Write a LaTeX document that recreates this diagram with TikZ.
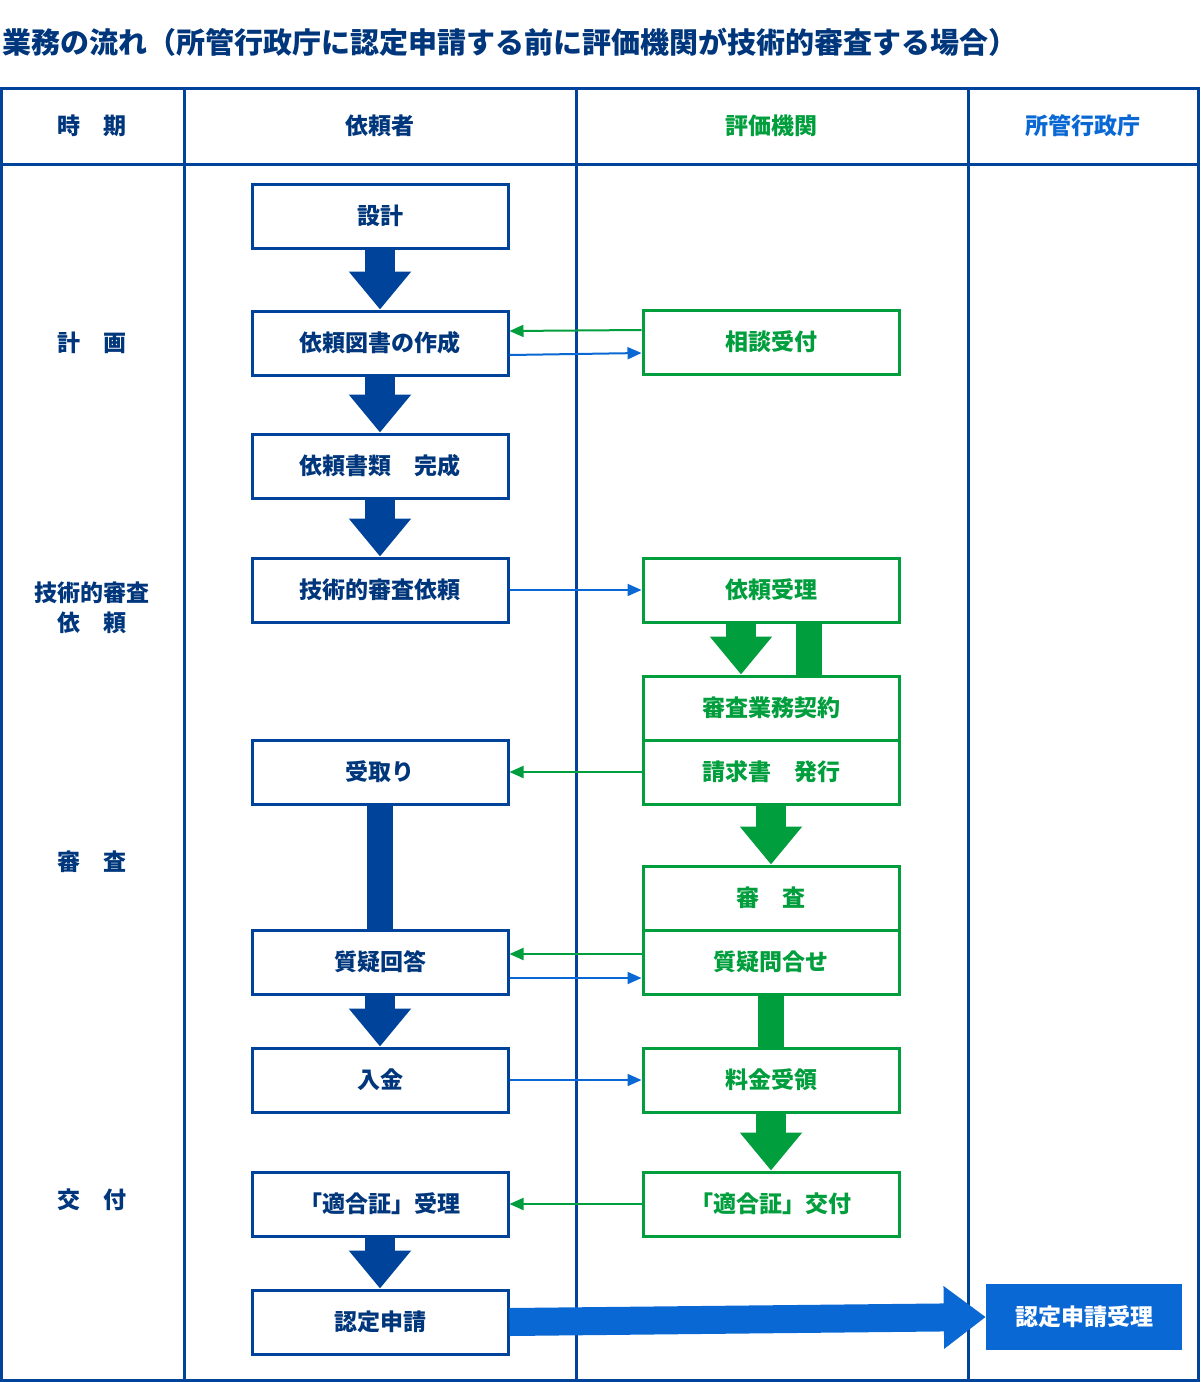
\documentclass[tikz,border=0pt]{standalone}
\usepackage{fontspec}
\setmainfont{Noto Sans CJK JP}
\usetikzlibrary{arrows.meta,positioning}
\definecolor{navy}{HTML}{00439A}
\definecolor{grn}{HTML}{009E3C}
\definecolor{sky}{HTML}{0A68D4}
\begin{document}
\begin{tikzpicture}[x=1pt,y=-1pt]
	\tikzstyle{box}
	  =[draw=navy, line width=3pt, fill=white, minimum width=256pt,
	  minimum height=64pt, inner sep=0pt, font=\fontsize{23}{26}\selectfont\bfseries, text=navy!80!black]
	\tikzstyle{gbox}
	  =[box, draw=grn, text=grn]
	\tikzstyle{head}
	  =[font=\fontsize{23}{26}\selectfont\bfseries, text=navy!80!black]
	\tikzstyle{big}
	  =[line width=30pt, -{Triangle[width=60pt,length=38pt]}]
	\tikzstyle{bar}
	  =[line width=26pt]
	\tikzstyle{thin}
	  =[line width=2pt, -{Triangle[width=12pt,length=14pt]}]
	\useasboundingbox (0,0) rectangle (1200,1382);

	% title and table
	\node[anchor=west, font=\fontsize{29}{32}\selectfont\bfseries, text=navy!80!black, inner sep=0pt]
	  (title) at (2,42) {業務の流れ（所管行政庁に認定申請する前に評価機関が技術的審査する場合）};
	\draw[navy, line width=3pt] (1.5,88) rectangle (1198.5,1380.5);
	\draw[navy, line width=3pt] (0,164)--(1200,164);
	\foreach \x in {184,576,968}
	  \draw[navy, line width=3pt] (\x,88)--(\x,1380);

	\node[head] (h1) at (92,126) {時　期};
	\node[head] (h2) at (380,126) {依頼者};
	\node[head, text=grn] (h3) at (771,126) {評価機関};
	\node[head, text=sky] (h4) at (1083,126) {所管行政庁};
	\node[head] (p1) at (92,343) {計　画};
	\node[head, align=center] (p2) at (92,608) {技術的審査\\[4pt]依　頼};
	\node[head] (p3) at (92,862) {審　査};
	\node[head] (p4) at (92,1200) {交　付};

	% client column
	\node[box] (design) at (380,216) {設計};
	\node[box] (draft) at (380,343) {依頼図書の作成};
	\node[box] (docs) at (380,466) {依頼書類　完成};
	\node[box] (req) at (380,590) {技術的審査依頼};
	\node[box] (recv) at (380,772) {受取り};
	\node[box] (answer) at (380,962) {質疑回答};
	\node[box] (pay) at (380,1080) {入金};
	\node[box] (certin) at (380,1204) {「適合証」受理};
	\node[box] (apply) at (380,1322) {認定申請};

	% agency column
	\node[gbox] (consult) at (771,342) {相談受付};
	\node[gbox] (accept) at (771,590) {依頼受理};
	\node[gbox] (contract) at (771,708) {審査業務契約};
	\node[gbox] (bill) at (771,772) {請求書　発行};
	\node[gbox] (review) at (771,898) {審　査};
	\node[gbox] (query) at (771,962) {質疑問合せ};
	\node[gbox] (fee) at (771,1080) {料金受領};
	\node[gbox] (certout) at (771,1204) {「適合証」交付};

	% authority
	\node[fill=sky, text=white, minimum width=196pt, minimum height=66pt, inner sep=0pt,
	  font=\fontsize{23}{26}\selectfont\bfseries] (final) at (1084,1317) {認定申請受理};

	% block arrows
	\draw[big, navy] (design)--(draft);
	\draw[big, navy] (draft)--(docs);
	\draw[big, navy] (docs)--(req);
	\draw[bar, navy] (recv)--(answer);
	\draw[big, navy] (answer)--(pay);
	\draw[big, navy] (certin)--(apply);
	\draw[big, grn] ([xshift=-30pt]accept.south)--([xshift=-30pt]contract.north);
	\draw[bar, grn] ([xshift=38pt]accept.south)--([xshift=38pt]contract.north);
	\draw[big, grn] (bill)--(review);
	\draw[bar, grn] (query)--(fee);
	\draw[big, grn] (fee)--(certout);
	\draw[line width=28pt, sky, -{Triangle[width=60pt,length=42pt]}] (apply.east)--(final.west);

	% thin arrows
	\draw[thin, sky] ([yshift=-12pt]draft.east)--([yshift=-11pt]consult.west);
	\draw[thin, grn] ([yshift=12pt]consult.west)--([yshift=12pt]draft.east);
	\draw[thin, sky] (req)--(accept);
	\draw[thin, grn] (bill)--(recv);
	\draw[thin, sky] ([yshift=-16pt]answer.east)--([yshift=-16pt]query.west);
	\draw[thin, grn] ([yshift=8pt]query.west)--([yshift=8pt]answer.east);
	\draw[thin, sky] (pay)--(fee);
	\draw[thin, grn] (certout)--(certin);
\end{tikzpicture}
\end{document}
